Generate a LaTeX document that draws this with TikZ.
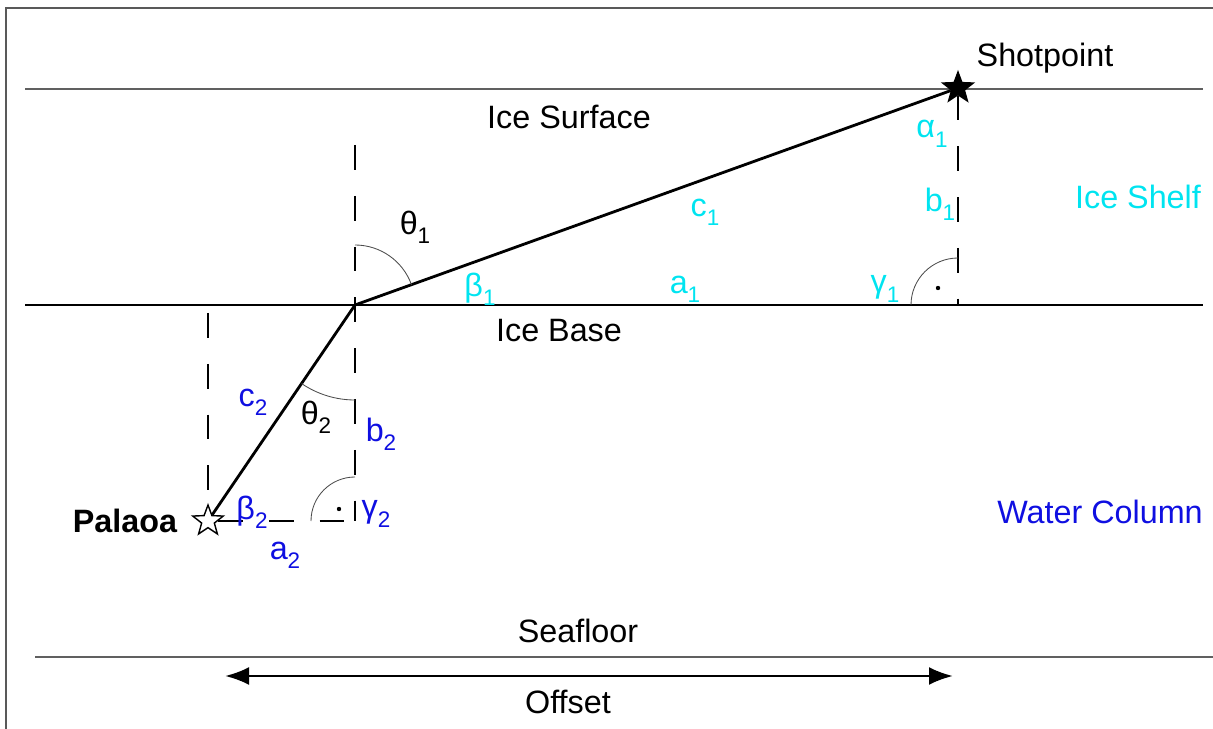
\documentclass[tikz,border=0pt]{standalone}
\usepackage{fontspec}
\setmainfont{Liberation Sans}
\usepackage{xcolor}
\usetikzlibrary{arrows.meta,positioning,shapes.geometric}
\definecolor{shelfcyan}{RGB}{0,228,240}
\definecolor{waterblue}{RGB}{15,15,225}
\newcommand{\idx}[1]{\raisebox{-0.55ex}{\fontsize{16}{16}\selectfont #1}}

\begin{document}
\begin{tikzpicture}[
	x=0.25mm, y=-0.25mm,
	every node/.style={font=\fontsize{23}{27}\selectfont, inner sep=0pt},
	layer/.style={gray!75!black, line width=0.9pt},
	ray/.style={line width=2pt},
	normal/.style={line width=1.8pt, dash pattern=on 6.2mm off 6.5mm},
	angarc/.style={gray!60!black, line width=0.6pt},
	ice/.style={text=shelfcyan},
	water/.style={text=waterblue},
	source/.style={draw, star, star points=5, star point ratio=2.4, minimum size=8mm, line width=1pt},
	arrow/.style={{Latex[length=6mm,width=4.5mm]}-{Latex[length=6mm,width=4.5mm]}, line width=2pt}
	]
	
	\useasboundingbox (0,0) rectangle (1213,729);
	\draw[gray!70!black, line width=0.8pt] (5,8) -- (1213,8) (6,8) -- (6,729);
	
	% layer boundaries
	\draw[layer] (25,89) -- (1203,89);
	\draw[layer, black] (25,305) -- (1203,305);
	\draw[layer] (35,657) -- (1213,657);
	
	\coordinate (refr) at (355,305);
	\coordinate (top1) at (355,145);
	\coordinate (bot1) at (355,521);
	\coordinate (top2) at (208,313);
	\coordinate (foot1) at (958,305);
	
	\node[source, fill=black] (shot) at (958,88) {};
	\node[source, fill=white] (palaoa) at (208,521) {};
	
	% normals and legs
	\draw[normal] (top1) -- (bot1);
	\draw[normal] (top2) -- (palaoa);
	\draw[normal] (palaoa) -- (bot1);
	\draw[normal] (shot) -- (foot1);
	
	% ray path
	\draw[ray] (refr) -- (shot);
	\draw[ray] (refr) -- (palaoa);
	
	% angles
	\draw[angarc] (refr) ++(-90:60) arc[start angle=-90, end angle=-19.8, radius=60];
	\draw[angarc] (refr) ++(90:95) arc[start angle=90, end angle=124.2, radius=95];
	\draw[angarc] (foot1) ++(-90:47) arc[start angle=-90, end angle=-180, radius=47];
	\draw[angarc] (bot1) ++(-90:44) arc[start angle=-90, end angle=-180, radius=44];
	\fill (938,288) circle (2.2);
	\fill (339,509) circle (2.2);
	
	\node (shotlbl) at (1045,58) {Shotpoint};
	\node (surface) at (569,117) {Ice Surface};
	\node[ice] (shelf) at (1138,197) {Ice Shelf};
	\node (base) at (559,331) {Ice Base};
	\node[water] (column) at (1100,512) {Water Column};
	\node (seafloor) at (578,631) {Seafloor};
	\node (offset) at (568,702) {Offset};
	\node[font=\fontsize{23}{27}\selectfont\bfseries] (palaoalbl) at (125,521) {Palaoa};
	
	\node[ice] (alpha1) at (932,134) {α\idx{1}};
	\node[ice] (b1) at (940,204) {b\idx{1}};
	\node[ice] (c1) at (705,212) {c\idx{1}};
	\node[ice] (gamma1) at (885,289) {γ\idx{1}};
	\node[ice] (a1) at (685,289) {a\idx{1}};
	\node[ice] (beta1) at (480,289) {β\idx{1}};
	\node (theta1) at (415,227) {θ\idx{1}};
	
	\node[water] (c2) at (253,402) {c\idx{2}};
	\node (theta2) at (316,417) {θ\idx{2}};
	\node[water] (b2) at (381,434) {b\idx{2}};
	\node[water] (beta2) at (252,512) {β\idx{2}};
	\node[water] (gamma2) at (376,514) {γ\idx{2}};
	\node[water] (a2) at (285,555) {a\idx{2}};
	
	\coordinate (offL) at (225,676);
	\coordinate (offR) at (953,676);
	\draw[arrow] (offL) -- (offR);
	
\end{tikzpicture}
\end{document}
